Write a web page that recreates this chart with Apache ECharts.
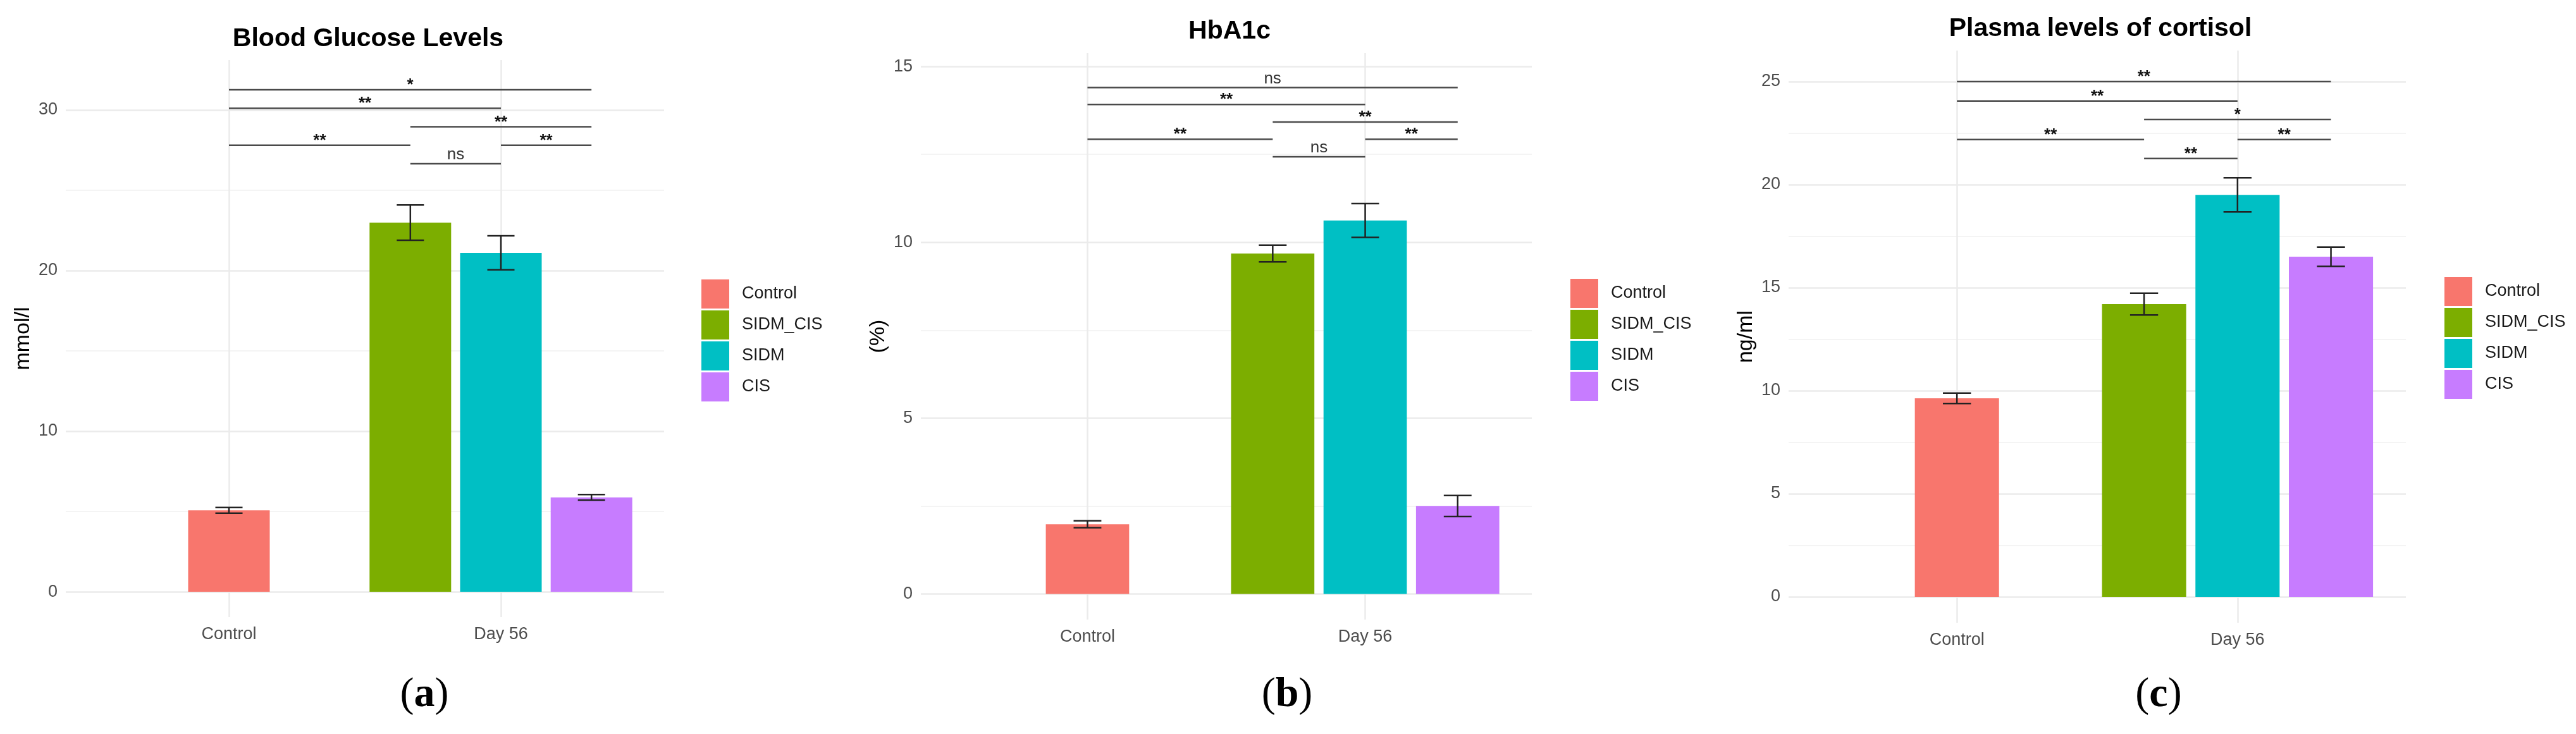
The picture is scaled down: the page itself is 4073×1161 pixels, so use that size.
<!DOCTYPE html>
<html>
<head>
<meta charset="UTF-8">
<title>Blood glucose, HbA1c and cortisol</title>
<style>
  html, body { margin: 0; padding: 0; background: #fff; }
  #chart { width: 4073px; height: 1161px; }
</style>
</head>
<body>
<div id="chart"></div>
<script src="https://cdn.jsdelivr.net/npm/echarts@6/dist/echarts.min.js"></script>
<script>
// groups, the time point each one belongs to, ggplot hue colours
var groups = ['Control', 'SIDM_CIS', 'SIDM', 'CIS'];
var groupTime = ['Control', 'Day 56', 'Day 56', 'Day 56'];
var timepoints = ['Control', 'Day 56'];
var colors = ['#F8766D', '#7CAE00', '#00BFC4', '#C77CFF'];

// (a) blood glucose, mmol/l
var glucoseMean = [5.07, 22.98, 21.1, 5.88];
var glucoseErr = [0.18, 1.1, 1.06, 0.17];
var glucoseTicks = [0, 10, 20, 30];

// (b) HbA1c, %
var hba1cMean = [1.98, 9.68, 10.62, 2.5];
var hba1cErr = [0.1, 0.24, 0.48, 0.3];
var hba1cTicks = [0, 5, 10, 15];

// (c) plasma cortisol, ng/ml
var cortisolMean = [9.63, 14.2, 19.5, 16.5];
var cortisolErr = [0.25, 0.53, 0.83, 0.47];
var cortisolTicks = [0, 5, 10, 15, 20, 25];

// significance brackets (same pairs on every panel)
var sigPairs = [['Control', 'CIS'], ['Control', 'SIDM'], ['SIDM_CIS', 'CIS'],
                ['Control', 'SIDM_CIS'], ['SIDM', 'CIS'], ['SIDM_CIS', 'SIDM']];
var glucoseSigY = [31.25, 30.1, 28.95, 27.8, 27.8, 26.65];
var glucoseSigLabel = ['*', '**', '**', '**', '**', 'ns'];
var hba1cSigY = [14.4, 13.92, 13.42, 12.93, 12.93, 12.43];
var hba1cSigLabel = ['ns', '**', '**', '**', '**', 'ns'];
var cortisolSigY = [25.0, 24.05, 23.16, 22.18, 22.18, 21.26];
var cortisolSigLabel = ['**', '**', '*', '**', '**', '**'];

var FONT = 'Liberation Sans, Arial, sans-serif';
var BAR_W = 0.3;     // bar width, share of one x unit
var BAR_GAP = 0.11;  // gap between dodged bars, share of bar width
var STEP = BAR_W * (1 + BAR_GAP);
var CAP = 0.1;       // error bar cap width, x units

var panels = [
  { title: 'Blood Glucose Levels', yName: 'mmol/l', mean: glucoseMean, err: glucoseErr,
    ticks: glucoseTicks, sigY: glucoseSigY, sigLabel: glucoseSigLabel,
    yMin: -1.57, yMax: 33.1, left: 104, top: 95, width: 946, height: 881,
    titleX: 577, titleTop: 36, legendX: 1104, legendTop: 437, letter: 'a', letterX: 666 },
  { title: 'HbA1c', yName: '(%)', mean: hba1cMean, err: hba1cErr,
    ticks: hba1cTicks, sigY: hba1cSigY, sigLabel: hba1cSigLabel,
    yMin: -0.73, yMax: 15.38, left: 1456, top: 84, width: 966, height: 896,
    titleX: 1939, titleTop: 24, legendX: 2478, legendTop: 436, letter: 'b', letterX: 2030 },
  { title: 'Plasma levels of cortisol', yName: 'ng/ml', mean: cortisolMean, err: cortisolErr,
    ticks: cortisolTicks, sigY: cortisolSigY, sigLabel: cortisolSigLabel,
    yMin: -1.26, yMax: 26.5, left: 2828, top: 80, width: 976, height: 905,
    titleX: 3316, titleTop: 20, legendX: 3860, legendTop: 433, letter: 'c', letterX: 3408 }
];

// x position of each group and its dodge slot inside its time point
var groupX = groupTime.map(function (t) { return timepoints.indexOf(t) + 1; });
var maxPerTime = Math.max.apply(null, timepoints.map(function (t) {
  return groupTime.filter(function (g) { return g === t; }).length;
}));
var groupSlot = groups.map(function (name, i) {
  var same = groups.filter(function (n, j) { return groupTime[j] === groupTime[i]; });
  return same.indexOf(name) - (same.length - 1) / 2;
});
var barOrder = groups.map(function (n, i) { return i; }).sort(function (a, b) {
  return (groupSlot[a] - groupSlot[b]) || (a - b);
});
var tickPos = timepoints.map(function (t, i) { return i + 1; });

function minorTicks(ticks) {
  var out = [];
  for (var i = 1; i < ticks.length; i++) out.push((ticks[i - 1] + ticks[i]) / 2);
  return out;
}

function renderErr(params, api) {
  var band = api.size([1, 0])[0];
  var x = api.value(0);
  var cx = api.coord([x, 0])[0] + api.value(3) * band * STEP;
  var yLo = api.coord([x, api.value(1)])[1];
  var yHi = api.coord([x, api.value(2)])[1];
  var half = band * CAP / 2;
  function ln(x1, y1, x2, y2) {
    return { type: 'line', shape: { x1: x1, y1: y1, x2: x2, y2: y2 },
             style: { stroke: '#222', lineWidth: 2.5 } };
  }
  return { type: 'group', children: [
    ln(cx, yHi, cx, yLo), ln(cx - half, yHi, cx + half, yHi), ln(cx - half, yLo, cx + half, yLo)
  ] };
}

function makeSigRenderer(labels) {
  return function (params, api) {
    var band = api.size([1, 0])[0];
    var y = api.coord([1, api.value(4)])[1];
    var xa = api.coord([api.value(0), 0])[0] + api.value(1) * band * STEP;
    var xb = api.coord([api.value(2), 0])[0] + api.value(3) * band * STEP;
    var lab = labels[params.dataIndex];
    var star = lab.indexOf('*') >= 0;
    return { type: 'group', children: [
      { type: 'line', shape: { x1: xa, y1: y, x2: xb, y2: y },
        style: { stroke: '#4a4a4a', lineWidth: 2.5 } },
      { type: 'text', style: { text: lab, x: (xa + xb) / 2, y: y + (star ? 6 : -1),
        align: 'center', verticalAlign: 'bottom', fontSize: 26, fontFamily: FONT,
        fontWeight: star ? 'bold' : 'normal', fill: star ? '#111' : '#333' } }
    ] };
  };
}

var option = {
  animation: false,
  backgroundColor: '#fff',
  textStyle: { fontFamily: FONT },
  title: [], legend: [], grid: [], xAxis: [], yAxis: [], series: []
};

panels.forEach(function (p, k) {
  option.grid.push({ left: p.left, top: p.top, width: p.width, height: p.height });
  option.title.push({
    text: p.title, left: p.titleX, top: p.titleTop, textAlign: 'center',
    textStyle: { fontSize: 41, fontWeight: 'bold', color: '#000', fontFamily: FONT }
  });
  // panel letter: plain parentheses, bold letter
  option.title.push({
    text: '({l|' + p.letter + '})', left: p.letterX, top: 1062, textAlign: 'center',
    textStyle: { fontSize: 66, fontWeight: 'normal', color: '#000', fontFamily: 'Liberation Serif, serif',
      rich: { l: { fontSize: 66, fontWeight: 'bold', color: '#000', fontFamily: 'Liberation Serif, serif' } } }
  });
  option.legend.push({
    data: groups, orient: 'vertical', left: p.legendX, top: p.legendTop,
    icon: 'rect', itemWidth: 44, itemHeight: 46, itemGap: 3, selectedMode: false,
    textStyle: { fontSize: 27, color: '#1a1a1a', fontFamily: FONT, padding: [0, 0, 0, 15] }
  });
  option.xAxis.push({
    gridIndex: k, type: 'value', min: 0.4, max: 2.6,
    axisLine: { show: false },
    axisTick: { show: false, customValues: tickPos },
    axisLabel: { customValues: tickPos, fontSize: 27, color: '#4d4d4d', margin: 14,
      formatter: function (v) { return timepoints[Math.round(v) - 1]; } },
    splitLine: { show: true, lineStyle: { color: '#ebebeb', width: 2.5 } }
  });
  option.yAxis.push({
    gridIndex: k, type: 'value', min: p.yMin, max: p.yMax, position: 'left',
    axisLine: { show: false },
    axisTick: { show: false, customValues: p.ticks },
    axisLabel: { customValues: p.ticks, fontSize: 27, color: '#4d4d4d', margin: 13 },
    splitLine: { show: true, lineStyle: { color: '#ebebeb', width: 2.5 } },
    name: p.yName, nameLocation: 'middle', nameGap: 50, nameRotate: 90,
    nameTextStyle: { fontSize: 34, color: '#000', fontFamily: FONT }
  });
  option.yAxis.push({
    gridIndex: k, type: 'value', min: p.yMin, max: p.yMax, position: 'left',
    axisLine: { show: false }, axisLabel: { show: false },
    axisTick: { show: false, customValues: minorTicks(p.ticks) },
    splitLine: { show: true, lineStyle: { color: '#f0f0f0', width: 1.5 } }
  });

  barOrder.forEach(function (g) {
    option.series.push({
      name: groups[g], type: 'bar', xAxisIndex: k, yAxisIndex: 2 * k,
      stack: 'p' + k + 'c' + (groupSlot[g] + (maxPerTime - 1) / 2),
      barWidth: (BAR_W * 100) + '%', barGap: (BAR_GAP * 100) + '%',
      itemStyle: { color: colors[g] },
      emphasis: { disabled: true },
      data: [[groupX[g], p.mean[g]]]
    });
  });

  option.series.push({
    name: 'err' + k, type: 'custom', xAxisIndex: k, yAxisIndex: 2 * k, z: 5,
    renderItem: renderErr, silent: true,
    data: groups.map(function (n, g) {
      return [groupX[g], p.mean[g] - p.err[g], p.mean[g] + p.err[g], groupSlot[g]];
    })
  });

  option.series.push({
    name: 'sig' + k, type: 'custom', xAxisIndex: k, yAxisIndex: 2 * k, z: 5,
    renderItem: makeSigRenderer(p.sigLabel), silent: true,
    data: sigPairs.map(function (pair, i) {
      var a = groups.indexOf(pair[0]), b = groups.indexOf(pair[1]);
      return [groupX[a], groupSlot[a], groupX[b], groupSlot[b], p.sigY[i]];
    })
  });
});

var chart = echarts.init(document.getElementById('chart'));
chart.setOption(option);
</script>
</body>
</html>
